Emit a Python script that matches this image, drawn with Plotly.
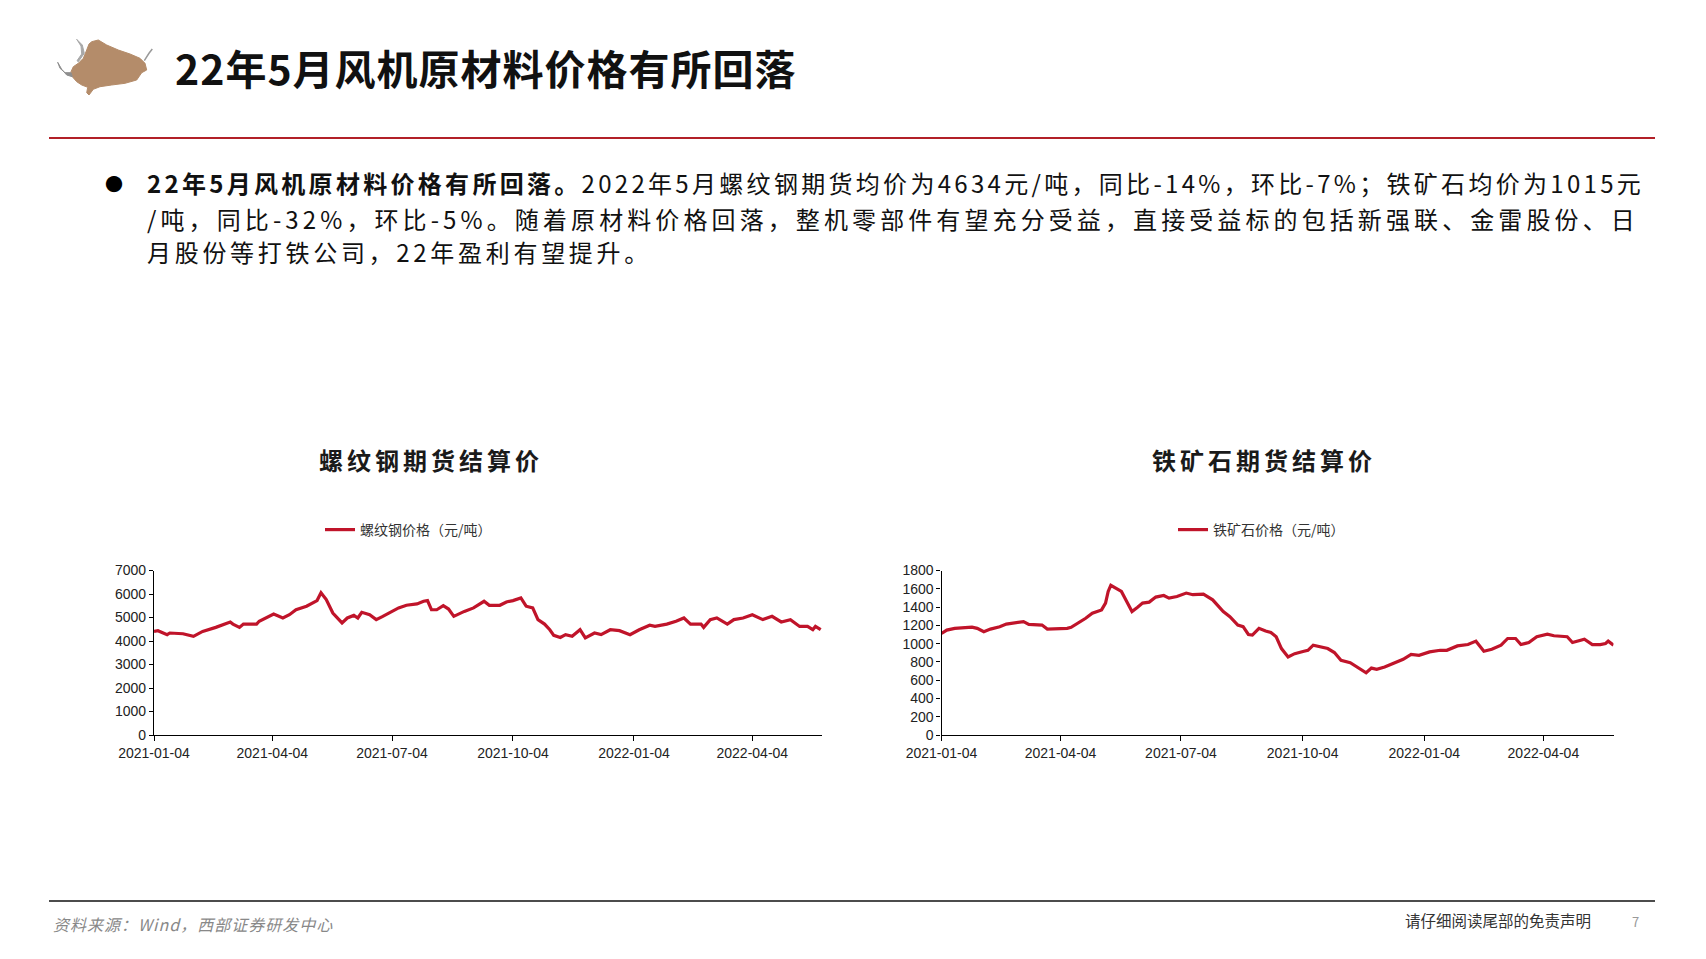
import plotly.graph_objects as go

# page body keeps its default 8px margin, so the figure is 16px smaller than the window
OFF = 8
W, H = 1706 - 2 * OFF, 959 - 2 * OFF
def px(x): return (x - OFF) / W
def py(y): return 1 - (y - OFF) / H

# ---------------- data ----------------
rebar_dates = [
    "2021-01-04", "2021-01-07", "2021-01-14", "2021-01-16", "2021-01-26", "2021-02-03", "2021-02-10",
    "2021-02-20", "2021-03-03", "2021-03-05", "2021-03-10", "2021-03-13", "2021-03-23", "2021-03-25",
    "2021-04-05", "2021-04-12", "2021-04-17", "2021-04-22", "2021-04-30", "2021-05-08", "2021-05-11",
    "2021-05-15", "2021-05-20", "2021-05-27", "2021-05-31", "2021-06-05", "2021-06-08", "2021-06-11",
    "2021-06-17", "2021-06-22", "2021-06-27", "2021-07-02", "2021-07-09", "2021-07-15", "2021-07-23",
    "2021-07-28", "2021-07-31", "2021-08-03", "2021-08-07", "2021-08-12", "2021-08-16", "2021-08-20",
    "2021-08-25", "2021-08-28", "2021-09-04", "2021-09-08", "2021-09-12", "2021-09-16", "2021-09-24",
    "2021-09-29", "2021-10-04", "2021-10-10", "2021-10-14", "2021-10-19", "2021-10-23", "2021-10-28",
    "2021-11-01", "2021-11-04", "2021-11-09", "2021-11-13", "2021-11-18", "2021-11-24", "2021-11-28",
    "2021-12-05", "2021-12-10", "2021-12-17", "2021-12-24", "2022-01-01", "2022-01-08", "2022-01-16",
    "2022-01-20", "2022-01-29", "2022-02-05", "2022-02-11", "2022-02-16", "2022-02-24", "2022-02-26",
    "2022-03-03", "2022-03-08", "2022-03-16", "2022-03-21", "2022-03-28", "2022-04-04", "2022-04-12",
    "2022-04-19", "2022-04-26", "2022-05-03", "2022-05-10", "2022-05-16", "2022-05-20", "2022-05-22",
    "2022-05-26",
]
rebar_values = [
    4410, 4440, 4270, 4340, 4310, 4200, 4410,
    4580, 4810, 4720, 4580, 4720, 4720, 4840,
    5150, 4980, 5120, 5330, 5480, 5720, 6050,
    5760, 5190, 4770, 4980, 5090, 4980, 5220,
    5120, 4910, 5050, 5190, 5410, 5520, 5580,
    5690, 5720, 5330, 5330, 5500, 5360, 5050,
    5190, 5260, 5410, 5550, 5690, 5520, 5520,
    5660, 5720, 5830, 5480, 5410, 4910, 4720,
    4480, 4240, 4150, 4270, 4200, 4480, 4130,
    4340, 4270, 4480, 4440, 4270, 4480, 4670,
    4620, 4720, 4840, 4980, 4720, 4720, 4580,
    4910, 4980, 4720, 4910, 4980, 5120, 4910,
    5050, 4810, 4910, 4620, 4620, 4480, 4620,
    4480,
]

ore_dates = [
    "2021-01-04", "2021-01-08", "2021-01-14", "2021-01-22", "2021-01-27", "2021-01-31", "2021-02-05",
    "2021-02-10", "2021-02-17", "2021-02-22", "2021-03-01", "2021-03-07", "2021-03-11", "2021-03-16",
    "2021-03-21", "2021-03-25", "2021-03-31", "2021-04-09", "2021-04-12", "2021-04-17", "2021-04-23",
    "2021-04-28", "2021-05-05", "2021-05-08", "2021-05-10", "2021-05-12", "2021-05-17", "2021-05-20",
    "2021-05-24", "2021-05-28", "2021-06-01", "2021-06-05", "2021-06-10", "2021-06-15", "2021-06-21",
    "2021-06-25", "2021-07-01", "2021-07-08", "2021-07-13", "2021-07-21", "2021-07-28", "2021-08-05",
    "2021-08-10", "2021-08-16", "2021-08-20", "2021-08-24", "2021-08-27", "2021-09-01", "2021-09-06",
    "2021-09-10", "2021-09-14", "2021-09-18", "2021-09-23", "2021-09-28", "2021-10-05", "2021-10-08",
    "2021-10-12", "2021-10-17", "2021-10-23", "2021-10-28", "2021-11-02", "2021-11-09", "2021-11-14",
    "2021-11-21", "2021-11-25", "2021-11-29", "2021-12-05", "2021-12-11", "2021-12-19", "2021-12-25",
    "2021-12-31", "2022-01-08", "2022-01-16", "2022-01-21", "2022-01-29", "2022-02-06", "2022-02-12",
    "2022-02-18", "2022-02-24", "2022-03-03", "2022-03-08", "2022-03-14", "2022-03-18", "2022-03-24",
    "2022-03-30", "2022-04-07", "2022-04-12", "2022-04-22", "2022-04-26", "2022-05-05", "2022-05-11",
    "2022-05-17", "2022-05-21", "2022-05-23", "2022-05-27",
]
ore_values = [
    1111, 1148, 1167, 1178, 1181, 1167, 1130,
    1159, 1185, 1214, 1229, 1240, 1211, 1211,
    1203, 1159, 1159, 1167, 1178, 1222, 1277,
    1332, 1369, 1443, 1571, 1638, 1590, 1571,
    1461, 1351, 1395, 1443, 1454, 1509, 1527,
    1498, 1516, 1553, 1535, 1542, 1479, 1351,
    1295, 1203, 1185, 1100, 1093, 1167, 1137,
    1122, 1075, 946, 854, 890, 916, 927,
    983, 964, 946, 902, 817, 791, 743,
    681, 732, 718, 743, 780, 828, 883,
    872, 909, 927, 927, 975, 990, 1027,
    916, 938, 983, 1056, 1056, 990, 1012,
    1075, 1104, 1086, 1075, 1012, 1049, 990,
    990, 1001, 1027, 983,
]

tick_dates = ["2021-01-04", "2021-04-04", "2021-07-04", "2021-10-04", "2022-01-04", "2022-04-04"]
x_range = ["2021-01-04", "2022-05-27"]

rebar_name = "螺纹钢价格（元/吨）"
ore_name = "铁矿石价格（元/吨）"
rebar_title = "螺纹钢期货结算价"
ore_title = "铁矿石期货结算价"

header_title = "22年5月风机原材料价格有所回落"
body_bold = "22年5月风机原材料价格有所回落。"
body_line1 = "2022年5月螺纹钢期货均价为4634元/吨，同比-14%，环比-7%；铁矿石均价为1015元"
body_line2 = "/吨，同比-32%，环比-5%。随着原材料价格回落，整机零部件有望充分受益，直接受益标的包括新强联、金雷股份、日"
body_line3 = "月股份等打铁公司，22年盈利有望提升。"
source_text = "资料来源：Wind，西部证券研发中心"
disclaimer = "请仔细阅读尾部的免责声明"
page_no = "7"

RED = "#C0142A"
CJK = "Noto Sans CJK SC"

fig = go.Figure()
fig.add_trace(go.Scatter(x=rebar_dates, y=rebar_values, mode="lines", name=rebar_name,
                         line=dict(color=RED, width=3.2), xaxis="x", yaxis="y", legend="legend"))
fig.add_trace(go.Scatter(x=ore_dates, y=ore_values, mode="lines", name=ore_name,
                         line=dict(color=RED, width=3.2), xaxis="x2", yaxis="y2", legend="legend2"))

tick_font = dict(family="Liberation Sans, Arial", size=14, color="#222")
def xax(domain, anchor):
    return dict(domain=domain, anchor=anchor, type="date", range=x_range, automargin=False,
                tickmode="array", tickvals=tick_dates, ticktext=tick_dates,
                showgrid=False, zeroline=False, showline=True, linecolor="#000", linewidth=1.3,
                ticks="outside", ticklen=5, tickcolor="#000", tickfont=tick_font)
def yax(domain, anchor, rng, dtick):
    return dict(domain=domain, anchor=anchor, range=rng, dtick=dtick, tick0=0, automargin=False,
                showgrid=False, zeroline=False, showline=True, linecolor="#000", linewidth=1.3,
                ticks="outside", ticklen=4, tickcolor="#000", tickfont=tick_font)

ydom = [py(735), py(570.5)]
leg_font = dict(family=CJK, size=14, color="#333")
fig.update_layout(
    template="none",
    width=W, height=H, margin=dict(l=0, r=0, t=0, b=0, pad=0, autoexpand=False),
    paper_bgcolor="white", plot_bgcolor="white",
    xaxis=xax([px(154), px(822)], "y"),
    yaxis=yax(ydom, "x", [0, 7000], 1000),
    xaxis2=xax([px(941.5), px(1613.5)], "y2"),
    yaxis2=yax(ydom, "x2", [0, 1800], 200),
    legend=dict(x=px(320), y=py(530), xanchor="left", yanchor="middle", font=leg_font,
                bgcolor="rgba(0,0,0,0)", borderwidth=0, itemwidth=30),
    legend2=dict(x=px(1173), y=py(530), xanchor="left", yanchor="middle", font=leg_font,
                 bgcolor="rgba(0,0,0,0)", borderwidth=0, itemwidth=30),
    showlegend=True,
)

ann = []
def add(text, x, y, size, color="#111", xanchor="left", yanchor="middle", family=CJK):
    ann.append(dict(text=text, x=px(x), y=py(y), xref="paper", yref="paper", showarrow=False,
                    xanchor=xanchor, yanchor=yanchor, font=dict(family=family, size=size, color=color)))

add(f'<span style="letter-spacing:1px"><b>{header_title}</b></span>', 173, 67, 41, "#111")
add("●", 114, 183, 18, "#000", "center")
add(f'<span style="letter-spacing:3.3px"><b>{body_bold}</b>{body_line1}</span>', 145, 183, 24)
add(f'<span style="letter-spacing:4.1px">{body_line2}</span>', 145, 218, 24)
add(f'<span style="letter-spacing:3.7px">{body_line3}</span>', 145, 252, 24)
add(f'<span style="letter-spacing:4px"><b>{rebar_title}</b></span>', 431, 459, 24, "#1a1a1a", "center")
add(f'<span style="letter-spacing:4px"><b>{ore_title}</b></span>', 1264, 459, 24, "#1a1a1a", "center")
add(f'<span style="letter-spacing:1px"><i>{source_text}</i></span>', 51, 924, 16, "#888")
add(disclaimer, 1403, 920, 15.5, "#333")
add(page_no, 1635, 921, 13, "#999", "center")

shapes = [
    dict(type="line", xref="paper", yref="paper", x0=px(49), x1=px(1655), y0=py(138), y1=py(138),
         line=dict(color="#B22028", width=2)),
    dict(type="line", xref="paper", yref="paper", x0=px(49), x1=px(1655), y0=py(901), y1=py(901),
         line=dict(color="#111", width=1.5)),
]

def poly(points, closed=True):
    d = "M " + " L ".join(f"{px(x):.5f},{py(y):.5f}" for x, y in points)
    return d + (" Z" if closed else "")

# logo (decorative bull silhouette)
bull_body = [(91.7, 41.7), (98.3, 40), (106.7, 45), (118.3, 50), (130, 54), (140, 58.3), (145, 63.3),
             (146.7, 70), (141.7, 72.7), (136.7, 80), (125, 83.3), (111.7, 85), (100, 86.7), (93.3, 89.3),
             (89, 95), (86.7, 92.7), (87.7, 87.3), (81.7, 85), (76.7, 81.7), (72.3, 76.7), (71, 71.7),
             (73.3, 66.7), (78.3, 63.3), (83.3, 58.3), (86.7, 50), (89, 44)]
horn_low = [(71, 72.7), (65, 72.7), (60, 68.3), (57.7, 62.3), (61.7, 69.3), (66.7, 75), (72.3, 76.7)]
horn_up = [(78.3, 61.7), (84.3, 53.3), (82.3, 45), (76.7, 39.3), (81, 46), (81.7, 54), (77, 60.7)]
tail = [(144.3, 60.7), (149, 53.3), (152.3, 49)]
shapes.append(dict(type="path", xref="paper", yref="paper", path=poly(bull_body),
                   fillcolor="#B48C6A", line=dict(color="#B48C6A", width=1)))
shapes.append(dict(type="path", xref="paper", yref="paper", path=poly(horn_low),
                   fillcolor="#8E8E8E", line=dict(color="#8E8E8E", width=1)))
shapes.append(dict(type="path", xref="paper", yref="paper", path=poly(horn_up),
                   fillcolor="#A8A8A8", line=dict(color="#A8A8A8", width=1)))
shapes.append(dict(type="path", xref="paper", yref="paper", path=poly(tail, closed=False),
                   line=dict(color="#9A9A9A", width=1.5)))
fig.update_layout(annotations=ann, shapes=shapes)

fig.write_html("out.html")
